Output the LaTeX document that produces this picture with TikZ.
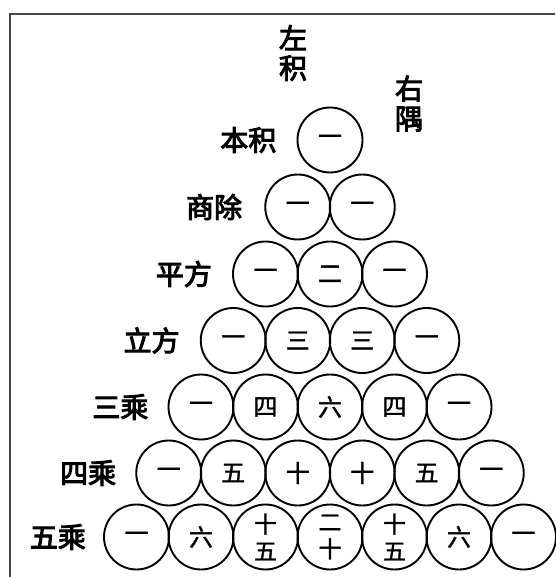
\documentclass[tikz,border=0pt]{standalone}
\usepackage{fontspec}
\newfontfamily\cjk[FakeBold=1.5]{Noto Sans CJK SC}
\newfontfamily\cjkm[FakeBold=3.5]{Noto Sans CJK SC}
\begin{document}
\begin{tikzpicture}[x=1pt,y=-1pt,
  ball/.style={circle, draw, line width=1.9pt, minimum size=65pt, inner sep=0pt, align=center,
    font=\cjk\fontsize{24}{25}\selectfont},
  stack/.style={font=\cjk\fontsize{23}{27}\selectfont},
  lab/.style={font=\cjkm\fontsize{28}{30}\selectfont, anchor=east, inner sep=0pt},
  vlab/.style={font=\cjkm\fontsize{28}{30}\selectfont, align=center, inner sep=0pt}]
\useasboundingbox (0,0) rectangle (555,577);
\draw[line width=2.5pt, color=black!72] (555,14) -- (10,14) -- (10,577);
% rows of circles
\foreach \t [count=\i from 0] in {一}
  \node[ball] (c0\i) at ({330+(\i-0)*64.5},140) {\t};
\foreach \t [count=\i from 0] in {一,一}
  \node[ball] (c1\i) at ({330+(\i-0.5)*64.5},207) {\t};
\foreach \t [count=\i from 0] in {一,二,一}
  \node[ball] (c2\i) at ({330+(\i-1)*64.5},274) {\t};
\foreach \t [count=\i from 0] in {一,三,三,一}
  \node[ball] (c3\i) at ({330+(\i-1.5)*64.5},340.5) {\t};
\foreach \t [count=\i from 0] in {一,四,六,四,一}
  \node[ball] (c4\i) at ({330+(\i-2)*64.5},407) {\t};
\foreach \t [count=\i from 0] in {一,五,十,十,五,一}
  \node[ball] (c5\i) at ({330+(\i-2.5)*64.5},473) {\t};
\node[ball] (c60) at ({330-3*64.5},537) {一};
\node[ball] (c61) at ({330-2*64.5},537) {六};
\node[ball,stack] (c62) at ({330-1*64.5},537) {十\\五};
\node[ball,stack] (c63) at (330,537) {二\\十};
\node[ball,stack] (c64) at ({330+1*64.5},537) {十\\五};
\node[ball] (c65) at ({330+2*64.5},537) {六};
\node[ball] (c66) at ({330+3*64.5},537) {一};
% row labels
\node[lab] (l0) at ([xshift=-20]c00.west) {本积};
\node[lab] (l1) at ([xshift=-22]c10.west) {商除};
\node[lab] (l2) at ([xshift=-20]c20.west) {平方};
\node[lab] (l3) at ([xshift=-20]c30.west) {立方};
\node[lab] (l4) at ([xshift=-19]c40.west) {三乘};
\node[lab] (l5) at ([xshift=-19]c50.west) {四乘};
\node[lab] (l6) at ([xshift=-17]c60.west) {五乘};
% side labels
\node[vlab] (zj) at (293,53) {左\\积};
\node[vlab] (yy) at (409,103.5) {右\\隅};
\end{tikzpicture}
\end{document}
